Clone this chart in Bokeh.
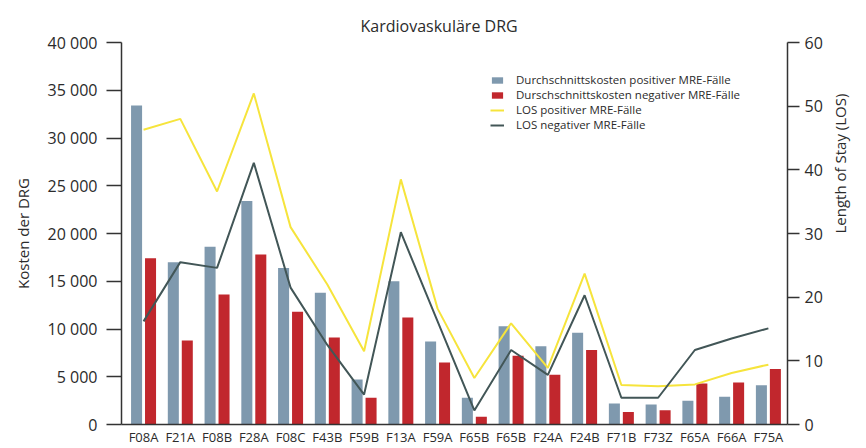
import math
from bokeh.plotting import figure
from bokeh.models import (ColumnDataSource, Range1d, LinearAxis, FixedTicker,
                          Legend, LegendItem)
from bokeh.transform import dodge
from bokeh.embed import file_html
from bokeh.resources import INLINE

categories = ["F08A", "F21A", "F08B", "F28A", "F08C", "F43B", "F59B", "F13A", "F59A",
              "F65B", "F65B", "F24A", "F24B", "F71B", "F73Z", "F65A", "F66A", "F75A"]
cost_pos = [33400, 17000, 18600, 23400, 16400, 13800, 4700, 15000, 8700,
            2800, 10300, 8200, 9600, 2200, 2100, 2500, 2900, 4100]
cost_neg = [17400, 8800, 13600, 17800, 11800, 9100, 2800, 11200, 6500,
            800, 7200, 5200, 7800, 1300, 1500, 4300, 4400, 5800]
los_pos = [46.3, 48.0, 36.6, 52.0, 31.0, 22.0, 11.5, 38.5, 18.2,
           7.3, 15.9, 8.9, 23.7, 6.2, 6.0, 6.3, 8.1, 9.4]
los_neg = [16.2, 25.5, 24.6, 41.1, 21.5, 12.5, 4.7, 30.2, 16.2,
           2.2, 11.7, 7.8, 20.3, 4.2, 4.2, 11.7, 13.5, 15.1]

cost_ticks = [0, 5000, 10000, 15000, 20000, 25000, 30000, 35000, 40000]
cost_tick_labels = ["0", "5 000", "10 000", "15 000", "20 000", "25 000",
                    "30 000", "35 000", "40 000"]
los_ticks = [0, 10, 20, 30, 40, 50, 60]

FONT = "Open Sans"
TXT = "#2b2b2b"
BLUE = "#7f99ae"
RED = "#c1272d"
YELLOW = "#f6e43c"
DARK = "#425657"

xs = list(range(len(categories)))
src = ColumnDataSource(dict(x=xs, cost_pos=cost_pos, cost_neg=cost_neg,
                            los_pos=los_pos, los_neg=los_neg))

p = figure(width=862, height=448, output_backend="svg", toolbar_location=None,
           x_range=Range1d(-0.6, 17.52), y_range=Range1d(0, 40000),
           min_border_left=121, min_border_right=74, min_border_top=42,
           min_border_bottom=21)
p.title.text = "Kardiovaskuläre DRG"
p.title.align = "left"
p.title.offset = 239
p.title.standoff = 12
p.title.text_font = FONT
p.title.text_font_size = "16px"
p.title.text_font_style = "normal"
p.title.text_color = TXT
p.outline_line_color = None
p.xgrid.grid_line_color = None
p.ygrid.grid_line_color = None

p.extra_y_ranges = {"los": Range1d(0, 60)}

r_pos = p.vbar(x=dodge("x", -0.19), top="cost_pos", width=0.3, source=src,
               fill_color=BLUE, line_color=None)
r_neg = p.vbar(x=dodge("x", 0.19), top="cost_neg", width=0.3, source=src,
               fill_color=RED, line_color=None)
r_lp = p.line(x="x", y="los_pos", source=src, y_range_name="los",
              line_color=YELLOW, line_width=2)
r_ln = p.line(x="x", y="los_neg", source=src, y_range_name="los",
              line_color=DARK, line_width=2)

# left axis
ya = p.yaxis[0]
ya.ticker = FixedTicker(ticks=cost_ticks)
ya.major_label_overrides = {t: l for t, l in zip(cost_ticks, cost_tick_labels)}
ya.axis_label = "Kosten der DRG"

# right axis
ra = LinearAxis(y_range_name="los", ticker=FixedTicker(ticks=los_ticks),
                axis_label="Length of Stay (LOS)")
p.add_layout(ra, "right")
try:
    ra.axis_label_orientation = math.pi / 2
except Exception:
    pass
try:
    ra.axis_label_align = "center"
except Exception:
    pass

xa = p.xaxis[0]
xa.ticker = FixedTicker(ticks=xs)
xa.major_label_overrides = {i: c for i, c in zip(xs, categories)}

for ax in [ya, ra]:
    ax.major_label_text_font = FONT
    ax.major_label_text_font_size = "16px"
    ax.major_label_text_color = TXT
    ax.axis_label_text_font = FONT
    ax.axis_label_text_font_size = "15px"
    ax.axis_label_text_font_style = "normal"
    ax.axis_label_text_color = TXT
    ax.axis_line_color = "#333333"
    ax.axis_line_width = 1.5
    ax.major_tick_line_color = "#333333"
    ax.major_tick_line_width = 1.5
    ax.major_tick_in = 0
    ax.minor_tick_line_color = None
ya.major_tick_out = 15
ya.major_label_standoff = 9
ya.axis_label_standoff = 12
ra.major_tick_out = 12
ra.major_label_standoff = 5
ra.axis_label_standoff = 14

xa.major_label_text_font = FONT
xa.major_label_text_font_size = "13px"
xa.major_label_text_color = TXT
xa.major_tick_line_color = None
xa.major_tick_out = 0
xa.major_tick_in = 0
xa.minor_tick_line_color = None
xa.axis_line_color = "#333333"
xa.axis_line_width = 1.5
xa.major_label_standoff = 3

legend = Legend(items=[
    LegendItem(label="Durchschnittskosten positiver MRE-Fälle", renderers=[r_pos]),
    LegendItem(label="Durschschnittskosten negativer MRE-Fälle", renderers=[r_neg]),
    LegendItem(label="LOS positiver MRE-Fälle", renderers=[r_lp]),
    LegendItem(label="LOS negativer MRE-Fälle", renderers=[r_ln]),
], location=(369, 292))
legend.label_text_font = FONT
legend.label_text_font_size = "11.5px"
legend.label_text_color = TXT
legend.glyph_width = 14
legend.glyph_height = 8
legend.label_height = 13
legend.label_standoff = 12
legend.spacing = 0
legend.padding = 2
legend.margin = 0
legend.border_line_color = None
legend.background_fill_alpha = 0
p.add_layout(legend, "center")

open("out.html", "w").write(file_html(p, INLINE))
